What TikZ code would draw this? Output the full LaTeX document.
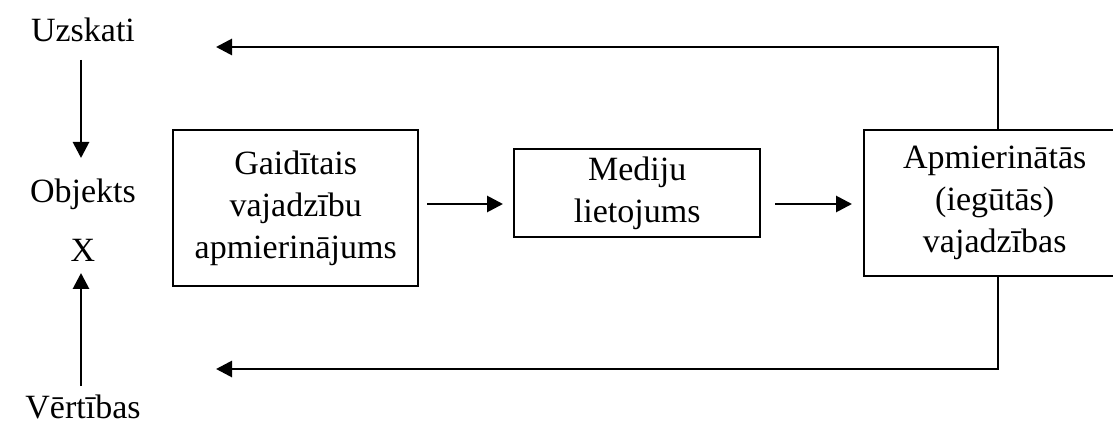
\documentclass[tikz,border=0pt]{standalone}
\usepackage{fontspec}
\setmainfont{Liberation Serif}
\usetikzlibrary{arrows.meta}
\begin{document}
\begin{tikzpicture}[x=1pt,y=-1pt,
  lbl/.style={font=\fontsize{34}{42}\selectfont, align=center, inner sep=0pt},
  blk/.style={draw, line width=2.4pt, font=\fontsize{34}{42}\selectfont, align=center, inner sep=0pt, anchor=north west},
  arr/.style={line width=2.8pt, -{Triangle[length=16pt,width=16pt]}},
  ln/.style={line width=2.8pt}]
\useasboundingbox (0,0) rectangle (1113,427);
% boxes
\node[blk, minimum width=245pt, minimum height=156pt] (b1) at (172,129) {Gaidītais\\vajadzību\\apmierinājums};
\node[blk, minimum width=246pt, minimum height=88pt] (b2) at (513,148) {Mediju\\lietojums};
\node[blk, minimum width=261pt, minimum height=146pt] (b3) at (863,129) {Apmierinātās\\(iegūtās)\\vajadzības};
% left labels
\node[lbl] (u) at (83,30) {Uzskati};
\node[lbl] (o) at (83,194) {Objekts};
\node[lbl] (x) at (83,250) {X};
\node[lbl] (v) at (83,407) {Vērtības};
\coordinate (ua) at (81,60);
\coordinate (ub) at (81,158);
\coordinate (va) at (81,386);
\coordinate (vb) at (81,273);
\draw[arr] (ua) -- (ub);
\draw[arr] (va) -- (vb);
% forward arrows
\coordinate (f1a) at (427,204);
\coordinate (f1b) at (503,204);
\coordinate (f2a) at (775,204);
\coordinate (f2b) at (852,204);
\draw[arr] (f1a) -- (f1b);
\draw[arr] (f2a) -- (f2b);
% feedback
\coordinate (t1) at (998,47);
\coordinate (t2) at (216,47);
\coordinate (s1) at (998,369);
\coordinate (s2) at (216,369);
\draw[arr] (b3.north west -| t1) -- (t1) -- (t2);
\draw[arr] (b3.south west -| s1) -- (s1) -- (s2);
\end{tikzpicture}
\end{document}
